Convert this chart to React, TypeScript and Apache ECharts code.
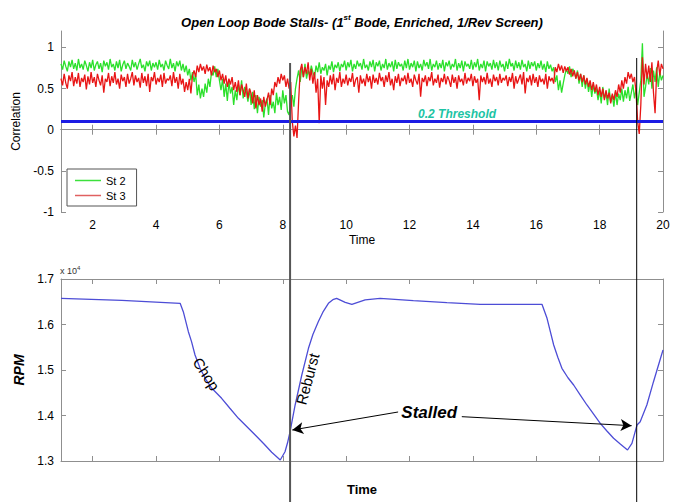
import React, { useEffect, useRef } from "react";
import * as echarts from "echarts";

// ---------- data ----------
const T0 = 1; // first sample time of the correlation traces
const STEP = 0.05; // sample spacing of the correlation traces

const ST2 = [
  0.80, 0.73, 0.84, 0.77, 0.71, 0.83, 0.76, 0.85, 0.74, 0.81,
  0.72, 0.86, 0.75, 0.80, 0.73, 0.84, 0.78, 0.71, 0.82, 0.75,
  0.85, 0.72, 0.79, 0.83, 0.74, 0.81, 0.70, 0.84, 0.77, 0.82,
  0.73, 0.86, 0.76, 0.80, 0.72, 0.83, 0.75, 0.85, 0.71, 0.79,
  0.84, 0.74, 0.81, 0.77, 0.72, 0.85, 0.76, 0.82, 0.73, 0.80,
  0.86, 0.75, 0.79, 0.71, 0.83, 0.77, 0.84, 0.72, 0.81, 0.76,
  0.82, 0.73, 0.85, 0.76, 0.80, 0.72, 0.84, 0.78, 0.74, 0.86,
  0.75, 0.81, 0.71, 0.83, 0.77, 0.84, 0.72, 0.80, 0.70, 0.78,
  0.66, 0.74, 0.60, 0.70, 0.58, 0.68, 0.42, 0.55, 0.38, 0.50,
  0.40, 0.56, 0.45, 0.62, 0.52, 0.70, 0.66, 0.77, 0.64, 0.74,
  0.60, 0.48, 0.62, 0.40, 0.56, 0.35, 0.58, 0.44, 0.52, 0.30,
  0.48, 0.36, 0.55, 0.42, 0.60, 0.38, 0.52, 0.46, 0.34, 0.50,
  0.30, 0.46, 0.25, 0.42, 0.20, 0.40, 0.28, 0.36, 0.15, 0.32,
  0.38, 0.18, 0.42, 0.26, 0.34, 0.20, 0.45, 0.30, 0.40, 0.24,
  0.48, 0.32, 0.42, 0.22, 0.18, 0.35, 0.42, 0.28, 0.50, 0.62,
  0.72, 0.58, 0.76, 0.64, 0.80, 0.62, 0.72, 0.66, 0.78, 0.70,
  0.64, 0.78, 0.70, 0.82, 0.68, 0.76, 0.72, 0.80, 0.66, 0.78,
  0.73, 0.83, 0.70, 0.79, 0.75, 0.82, 0.71, 0.80, 0.76, 0.84,
  0.72, 0.82, 0.76, 0.85, 0.71, 0.80, 0.74, 0.84, 0.77, 0.81,
  0.73, 0.86, 0.75, 0.79, 0.72, 0.83, 0.76, 0.85, 0.71, 0.82,
  0.77, 0.84, 0.72, 0.80, 0.75, 0.86, 0.73, 0.81, 0.76, 0.83,
  0.71, 0.85, 0.74, 0.82, 0.77, 0.80, 0.72, 0.84, 0.75, 0.86,
  0.73, 0.81, 0.76, 0.84, 0.71, 0.83, 0.75, 0.80, 0.72, 0.85,
  0.77, 0.82, 0.74, 0.86, 0.72, 0.80, 0.76, 0.84, 0.73, 0.81,
  0.75, 0.85, 0.71, 0.82, 0.77, 0.84, 0.73, 0.80, 0.76, 0.86,
  0.72, 0.81, 0.75, 0.84, 0.71, 0.83, 0.77, 0.80, 0.74, 0.85,
  0.73, 0.82, 0.76, 0.86, 0.72, 0.80, 0.75, 0.84, 0.71, 0.83,
  0.77, 0.81, 0.73, 0.85, 0.75, 0.82, 0.72, 0.84, 0.76, 0.80,
  0.71, 0.83, 0.74, 0.86, 0.77, 0.81, 0.72, 0.84, 0.75, 0.82,
  0.73, 0.85, 0.76, 0.80, 0.71, 0.84, 0.74, 0.82, 0.77, 0.83,
  0.72, 0.81, 0.75, 0.84, 0.73, 0.80, 0.70, 0.83, 0.74, 0.79,
  0.71, 0.76, 0.58, 0.66, 0.48, 0.60, 0.45, 0.56, 0.66, 0.74,
  0.68, 0.77, 0.64, 0.74, 0.70, 0.62, 0.72, 0.56, 0.68, 0.52,
  0.66, 0.50, 0.62, 0.46, 0.58, 0.40, 0.55, 0.44, 0.50, 0.36,
  0.48, 0.32, 0.52, 0.38, 0.45, 0.30, 0.50, 0.34, 0.42, 0.28,
  0.46, 0.30, 0.44, 0.36, 0.50, 0.34, 0.48, 0.38, 0.52, 0.35,
  0.45, 0.55, 0.38, 0.50, 0.30, 0.45, 0.60, 1.05, 0.40, 0.52,
  0.68, 0.55, 0.75, 0.50, 0.72, 0.58, 0.76, 0.52, 0.70, 0.60,
  0.66,
];

const ST3 = [
  0.62, 0.54, 0.68, 0.57, 0.50, 0.66, 0.59, 0.70, 0.53, 0.64,
  0.56, 0.69, 0.52, 0.63, 0.58, 0.67, 0.49, 0.65, 0.55, 0.70,
  0.57, 0.64, 0.52, 0.68, 0.60, 0.54, 0.66, 0.45, 0.62, 0.58,
  0.69, 0.53, 0.65, 0.57, 0.70, 0.55, 0.62, 0.50, 0.67, 0.59,
  0.64, 0.52, 0.68, 0.56, 0.62, 0.70, 0.54, 0.66, 0.58, 0.63,
  0.51, 0.69, 0.57, 0.65, 0.53, 0.68, 0.46, 0.64, 0.59, 0.70,
  0.55, 0.63, 0.58, 0.67, 0.52, 0.69, 0.56, 0.62, 0.60, 0.66,
  0.53, 0.70, 0.57, 0.64, 0.50, 0.68, 0.55, 0.62, 0.46, 0.58,
  0.48, 0.62, 0.44, 0.66, 0.72, 0.64, 0.78, 0.70, 0.80, 0.72,
  0.77, 0.68, 0.79, 0.71, 0.76, 0.66, 0.78, 0.70, 0.74, 0.64,
  0.72, 0.60, 0.68, 0.56, 0.66, 0.52, 0.62, 0.55, 0.64, 0.48,
  0.58, 0.46, 0.60, 0.42, 0.55, 0.48, 0.40, 0.56, 0.38, 0.50,
  0.44, 0.32, 0.48, 0.26, 0.42, 0.30, 0.38, 0.22, 0.40, 0.28,
  0.36, 0.45, 0.30, 0.50, 0.42, 0.58, 0.52, 0.64, 0.56, 0.68,
  0.60, 0.66, 0.52, 0.62, 0.50, 0.58, 0.10, -0.08, 0.05, -0.10,
  0.35, 0.72, 0.80, 0.64, 0.76, 0.68, 0.82, 0.60, 0.74, 0.56,
  0.70, 0.45, 0.62, 0.08, 0.66, 0.50, 0.64, 0.30, 0.60, 0.52,
  0.66, 0.55, 0.68, 0.48, 0.63, 0.57, 0.70, 0.52, 0.62, 0.56,
  0.67, 0.54, 0.63, 0.58, 0.69, 0.52, 0.61, 0.64, 0.45, 0.66,
  0.56, 0.62, 0.53, 0.68, 0.58, 0.65, 0.50, 0.67, 0.57, 0.63,
  0.55, 0.69, 0.59, 0.64, 0.52, 0.66, 0.58, 0.70, 0.54, 0.62,
  0.48, 0.65, 0.57, 0.68, 0.53, 0.63, 0.59, 0.66, 0.55, 0.69,
  0.57, 0.62, 0.52, 0.67, 0.60, 0.55, 0.68, 0.40, 0.63, 0.58,
  0.66, 0.53, 0.64, 0.59, 0.70, 0.54, 0.62, 0.57, 0.67, 0.51,
  0.63, 0.58, 0.68, 0.55, 0.65, 0.60, 0.52, 0.67, 0.57, 0.64,
  0.50, 0.66, 0.58, 0.62, 0.54, 0.69, 0.56, 0.63, 0.59, 0.68,
  0.53, 0.65, 0.57, 0.62, 0.36, 0.66, 0.58, 0.64, 0.55, 0.69,
  0.56, 0.62, 0.52, 0.67, 0.59, 0.64, 0.54, 0.68, 0.57, 0.63,
  0.60, 0.66, 0.53, 0.64, 0.58, 0.69, 0.50, 0.65, 0.56, 0.62,
  0.67, 0.55, 0.70, 0.44, 0.63, 0.58, 0.66, 0.54, 0.68, 0.57,
  0.64, 0.52, 0.66, 0.58, 0.62, 0.55, 0.68, 0.50, 0.65, 0.59,
  0.63, 0.56, 0.76, 0.70, 0.80, 0.72, 0.78, 0.69, 0.77, 0.71,
  0.76, 0.67, 0.74, 0.65, 0.72, 0.62, 0.70, 0.60, 0.68, 0.58,
  0.66, 0.55, 0.63, 0.52, 0.60, 0.48, 0.58, 0.46, 0.55, 0.42,
  0.52, 0.40, 0.50, 0.36, 0.48, 0.38, 0.45, 0.32, 0.44, 0.36,
  0.48, 0.40, 0.55, 0.45, 0.60, 0.50, 0.64, 0.56, 0.70, 0.62,
  0.68, 0.58, 0.64, 0.45, 0.10, -0.05, 0.30, 0.88, 0.55, 0.80,
  0.62, 0.78, 0.58, 0.82, 0.45, 0.20, 0.70, 0.84, 0.66, 0.80,
  0.74,
];

const THRESHOLD = 0.1;
const THRESHOLD_LABEL = "0.2 Threshold";

const RPM_TIME = [
  1, 2.92, 4.76, 4.86, 5.02, 5.12, 5.23, 5.39, 5.55, 5.76, 6.07, 6.33, 6.6,
  7.13, 7.4, 7.65, 7.92, 8.07, 8.15, 8.23, 8.39, 8.6, 8.81, 8.95, 9.12, 9.28,
  9.44, 9.58, 9.7, 9.97, 10.18, 10.6, 11.07, 12.12, 13.18, 14.23, 16.18,
  16.34, 16.55, 16.68, 16.81, 17.0, 17.18, 17.39, 17.6, 17.81, 18.02, 18.23,
  18.44, 18.66, 18.88, 19.02, 19.1, 19.18, 19.28, 19.49, 19.7, 20,
];
const RPM_VALUE = [
  16576, 16532, 16466, 16281, 15842, 15623, 15330, 15037, 14818, 14598, 14378,
  14160, 13938, 13571, 13380, 13191, 13022, 13204, 13400, 13644, 14231, 14890,
  15477, 15780, 16062, 16290, 16466, 16545, 16576, 16488, 16444, 16540, 16576,
  16523, 16480, 16444, 16444, 16136, 15549, 15280, 15037, 14830, 14670, 14450,
  14231, 14030, 13828, 13660, 13499, 13370, 13242, 13389, 13590, 13791, 13864,
  14231, 14743, 15440,
];

const X_TICKS = [2, 4, 6, 8, 10, 12, 14, 16, 18, 20];
const CORR_TICKS = [-1, -0.5, 0, 0.5, 1];
const STALL_TIMES = [8.23, 19.17];
// stalled arrows: [from time, from rpm, to time, to rpm]
const STALL_ARROWS = [
  [11.64, 14077, 8.3, 13681],
  [13.65, 13974, 19.01, 13776],
];

const FONT = '"Liberation Sans", Arial, sans-serif';
const FRAME = "#8f8f8f";

export default function App() {
  const ref = useRef<HTMLDivElement>(null);

  useEffect(() => {
    document.body.style.margin = "0";
    if (!ref.current) return;
    const chart = echarts.init(ref.current, undefined, { renderer: "svg" });

    const frameAxis = {
      axisLine: { show: true, lineStyle: { color: FRAME, width: 1 } },
      splitLine: { show: false },
    };
    const xTick = {
      show: true,
      inside: true,
      length: 5,
      customValues: X_TICKS,
      lineStyle: { color: FRAME },
    };
    const xBase = { type: "value", min: 1, max: 20, ...frameAxis };

    const corrData2 = ST2.map((v, i) => [T0 + i * STEP, v]);
    const corrData3 = ST3.map((v, i) => [T0 + i * STEP, v]);
    const rpmData = RPM_TIME.map((t, i) => [t, RPM_VALUE[i]]);

    chart.setOption({
      animation: false,
      backgroundColor: "#fff",
      textStyle: { fontFamily: FONT },
      title: {
        text: "{t|Open Loop Bode Stalls- (1}{s|st}{t| Bode, Enriched, 1/Rev Screen)}",
        left: 357,
        textAlign: "center",
        top: 8,
        textStyle: {
          rich: {
            t: {
              fontFamily: FONT,
              fontSize: 13,
              fontWeight: "bold",
              fontStyle: "italic",
              color: "#000",
              lineHeight: 18,
            },
            s: {
              fontFamily: FONT,
              fontSize: 8,
              fontWeight: "bold",
              fontStyle: "italic",
              color: "#000",
              verticalAlign: "top",
              lineHeight: 18,
              padding: [0, 0, 6, 0],
            },
          },
        },
      },
      legend: {
        data: [
          { name: "St 2", icon: "rect", itemStyle: { color: "#3ce03c" } },
          { name: "St 3", icon: "rect", itemStyle: { color: "#e06060" } },
        ],
        orient: "vertical",
        left: 67,
        top: 169,
        backgroundColor: "#fff",
        borderColor: "#555",
        borderWidth: 1,
        borderRadius: 0,
        padding: [5, 11, 4, 8],
        itemGap: 2,
        itemWidth: 26,
        itemHeight: 1.5,
        textStyle: { fontFamily: FONT, fontSize: 11, color: "#000", lineHeight: 13 },
      },
      grid: [
        { left: 61, right: 20, top: 31, height: 181 },
        { left: 61, right: 20, top: 279, height: 182 },
      ],
      xAxis: [
        {
          ...xBase,
          gridIndex: 0,
          position: "bottom",
          axisTick: xTick,
          axisLabel: {
            customValues: X_TICKS,
            color: "#000",
            fontSize: 12,
            fontFamily: FONT,
            margin: 7,
          },
          name: "Time",
          nameLocation: "middle",
          nameGap: 22,
          nameTextStyle: { color: "#000", fontSize: 12, fontFamily: FONT },
        },
        {
          ...xBase,
          gridIndex: 0,
          position: "top",
          axisTick: xTick,
          axisLabel: { show: false },
        },
        {
          ...xBase,
          gridIndex: 1,
          position: "bottom",
          axisTick: xTick,
          axisLabel: { show: false },
          name: "Time",
          nameLocation: "middle",
          nameGap: 22,
          nameTextStyle: {
            color: "#000",
            fontSize: 13,
            fontWeight: "bold",
            fontFamily: FONT,
          },
        },
        {
          ...xBase,
          gridIndex: 1,
          position: "top",
          axisTick: xTick,
          axisLabel: { show: false },
        },
      ],
      yAxis: [
        {
          type: "value",
          gridIndex: 0,
          position: "left",
          min: -1,
          max: 1.2,
          ...frameAxis,
          axisTick: {
            show: true,
            inside: true,
            length: 5,
            customValues: CORR_TICKS,
            lineStyle: { color: FRAME },
          },
          axisLabel: {
            customValues: CORR_TICKS,
            color: "#000",
            fontSize: 12,
            fontFamily: FONT,
            margin: 7,
          },
          name: "Correlation",
          nameLocation: "middle",
          nameGap: 37,
          nameTextStyle: { color: "#000", fontSize: 12, fontFamily: FONT },
        },
        {
          type: "value",
          gridIndex: 0,
          position: "right",
          min: -1,
          max: 1.2,
          ...frameAxis,
          axisTick: {
            show: true,
            inside: true,
            length: 5,
            customValues: CORR_TICKS,
            lineStyle: { color: FRAME },
          },
          axisLabel: { show: false },
        },
        {
          type: "value",
          gridIndex: 1,
          position: "left",
          min: 13000,
          max: 17000,
          interval: 1000,
          ...frameAxis,
          axisTick: { show: true, inside: true, length: 5, lineStyle: { color: FRAME } },
          axisLabel: {
            color: "#000",
            fontSize: 12,
            fontFamily: FONT,
            margin: 7,
            formatter: (v: number) => String(v / 10000),
          },
          name: "RPM",
          nameLocation: "middle",
          nameGap: 31,
          nameTextStyle: {
            color: "#000",
            fontSize: 14,
            fontWeight: "bold",
            fontStyle: "italic",
            fontFamily: FONT,
          },
        },
        {
          type: "value",
          gridIndex: 1,
          position: "right",
          min: 13000,
          max: 17000,
          interval: 1000,
          ...frameAxis,
          axisTick: { show: true, inside: true, length: 5, lineStyle: { color: FRAME } },
          axisLabel: { show: false },
        },
      ],
      series: [
        {
          type: "line",
          name: "St 2",
          xAxisIndex: 0,
          yAxisIndex: 0,
          data: corrData2,
          symbol: "none",
          showSymbol: false,
          lineStyle: { color: "#2be02b", width: 1.3 },
          itemStyle: { color: "#2be02b" },
          silent: true,
        },
        {
          type: "line",
          name: "St 3",
          xAxisIndex: 0,
          yAxisIndex: 0,
          data: corrData3,
          symbol: "none",
          showSymbol: false,
          lineStyle: { color: "#e81515", width: 1.3 },
          itemStyle: { color: "#e81515" },
          silent: true,
        },
        {
          type: "line",
          name: "Threshold",
          xAxisIndex: 0,
          yAxisIndex: 0,
          data: [
            [1, THRESHOLD],
            [20, THRESHOLD],
          ],
          symbol: "none",
          lineStyle: { color: "#1c1ce4", width: 3 },
          silent: true,
        },
        {
          type: "line",
          name: "RPM",
          xAxisIndex: 2,
          yAxisIndex: 2,
          data: rpmData,
          symbol: "none",
          showSymbol: false,
          lineStyle: { color: "#4d4dd6", width: 1.3 },
          silent: true,
          markLine: {
            silent: true,
            symbol: ["none", "arrow"],
            symbolSize: [9, 11],
            label: { show: false },
            lineStyle: { color: "#000", width: 1, type: "solid" },
            data: STALL_ARROWS.map((a) => [
              { coord: [a[0], a[1]] },
              { coord: [a[2], a[3]] },
            ]),
          },
        },
      ],
    });

    const p0 = (t: number, v: number) =>
      chart.convertToPixel({ gridIndex: 0 }, [t, v]) as number[];
    const p1 = (t: number, v: number) =>
      chart.convertToPixel({ gridIndex: 1 }, [t, v]) as number[];

    const thr = p0(13.5, THRESHOLD);
    const chop = p1(5.59, 14912);
    const reb = p1(8.78, 14802);
    const stalled = p1(12.62, 14066);
    const corner = p1(1, 17000);

    const tops = [63, 58];
    const colors = ["#555", "#000"];
    const widths = [2, 1];

    chart.setOption({
      graphic: [
        ...STALL_TIMES.map((t, i) => {
          const x = p0(t, 0)[0];
          return {
            type: "line",
            silent: true,
            z: 100,
            shape: { x1: x, y1: tops[i], x2: x, y2: 502 },
            style: { stroke: colors[i], lineWidth: widths[i] },
          };
        }),
        {
          type: "text",
          x: thr[0],
          y: thr[1] - 2,
          z: 100,
          style: {
            text: THRESHOLD_LABEL,
            fill: "#1cc4a4",
            font: `italic bold 12px ${FONT}`,
            textAlign: "center",
            textVerticalAlign: "bottom",
            align: "center",
            verticalAlign: "bottom",
          },
        },
        {
          type: "text",
          x: chop[0],
          y: chop[1],
          rotation: (-57 * Math.PI) / 180,
          z: 100,
          style: {
            text: "Chop",
            fill: "#000",
            font: `15px ${FONT}`,
            textAlign: "center",
            textVerticalAlign: "middle",
            align: "center",
            verticalAlign: "middle",
          },
        },
        {
          type: "text",
          x: reb[0],
          y: reb[1],
          rotation: (75 * Math.PI) / 180,
          z: 100,
          style: {
            text: "Reburst",
            fill: "#000",
            font: `15px ${FONT}`,
            textAlign: "center",
            textVerticalAlign: "middle",
            align: "center",
            verticalAlign: "middle",
          },
        },
        {
          type: "text",
          x: stalled[0],
          y: stalled[1],
          z: 100,
          style: {
            text: "Stalled",
            fill: "#000",
            font: `italic bold 17px ${FONT}`,
            textAlign: "center",
            textVerticalAlign: "middle",
            align: "center",
            verticalAlign: "middle",
          },
        },
        {
          type: "text",
          x: corner[0] - 1,
          y: corner[1] - 3,
          z: 100,
          style: {
            text: "x 10{s|4}",
            fill: "#333",
            font: `9px ${FONT}`,
            textAlign: "left",
            textVerticalAlign: "bottom",
            align: "left",
            verticalAlign: "bottom",
            rich: {
              s: { fontSize: 6, fontFamily: FONT, fill: "#333", padding: [0, 0, 5, 0] },
            },
          },
        },
      ],
    });

    return () => chart.dispose();
  }, []);

  return <div ref={ref} style={{ width: 683, height: 502 }} />;
}
